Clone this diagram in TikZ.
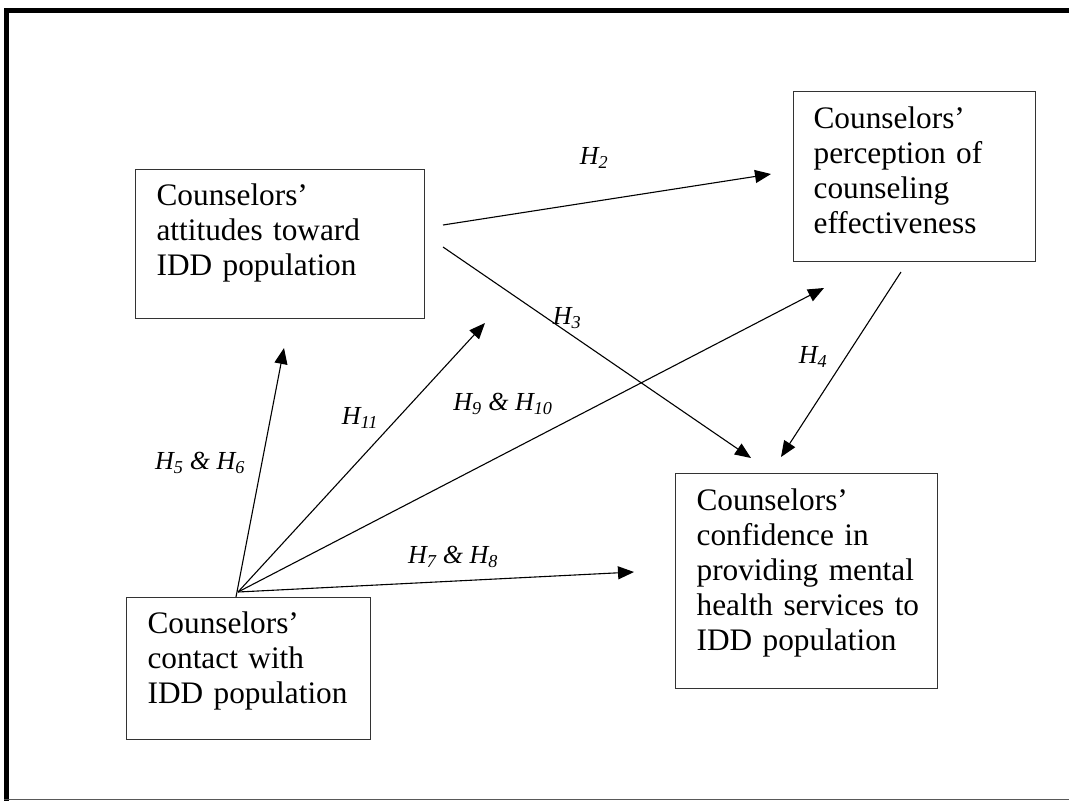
\documentclass[tikz,border=0pt]{standalone}
\usepackage{fontspec}
\setmainfont{Liberation Serif}
\usetikzlibrary{arrows.meta}
\newcommand\hh[1]{H\textsubscript{#1}}
\begin{document}
\begin{tikzpicture}[x=1pt,y=-1pt,
  box/.style={draw=black!80, line width=1.2pt, anchor=north west, inner ysep=0pt,
    inner xsep=21pt, align=left, font=\fontsize{31.3}{35}\selectfont},
  arr/.style={line width=1.1pt, -{Triangle[length=16pt,width=13pt]}},
  hyp/.style={font=\fontsize{26}{28}\selectfont\itshape, inner sep=0pt}]
\useasboundingbox (0,0) rectangle (1069,801);
% frame
\draw[line width=5pt, line join=miter] (6.5,801) -- (6.5,10.8) -- (1069,10.8);
\draw[black!65, line width=1.5pt] (4,799.5) -- (1069,799.5);
% boxes
\node[box, text width=247pt, text height=36pt, text depth=113pt] (att) at (135,169)
  {\mbox{Counselors’}\\\mbox{attitudes toward}\\\mbox{IDD population}};
\node[box, inner xsep=20pt, text width=202pt, text height=37pt, text depth=133pt] (per) at (793,91)
  {\mbox{Counselors’}\\\mbox{perception of}\\\mbox{counseling}\\\mbox{effectiveness}};
\node[box, text width=220pt, text height=37pt, text depth=178pt] (conf) at (675,473)
  {\mbox{Counselors’}\\\mbox{confidence in}\\\mbox{providing mental}\\\mbox{health services to}\\\mbox{IDD population}};
\node[box, text width=202pt, text height=36pt, text depth=106pt] (con) at (126,597)
  {\mbox{Counselors’}\\\mbox{contact with}\\\mbox{IDD population}};
% connector end points
\coordinate (o) at (238,592);
\coordinate (o5) at (236,597);
\coordinate (t5) at (284,348);
\coordinate (t11) at (485,323);
\coordinate (t9) at (824,288);
\coordinate (t7) at (634,572);
\coordinate (s2) at (443,225);
\coordinate (t2) at (771,174);
\coordinate (s3) at (443,247);
\coordinate (t3) at (751,458);
\coordinate (s4) at (901,272);
\coordinate (t4) at (781,457);
% arrows
\draw[arr] (o5) -- (t5);
\draw[arr] (o) -- (t11);
\draw[arr] (o) -- (t9);
\draw[arr] (o) -- (t7);
\draw[arr] (s2) -- (t2);
\draw[arr] (s3) -- (t3);
\draw[arr] (s4) -- (t4);
% labels
\node[hyp] (l2) at (594,158) {\hh{2}};
\node[hyp] (l3) at (567,318) {\hh{3}};
\node[hyp] (l4) at (813,357) {\hh{4}};
\node[hyp] (l11) at (360,418) {\hh{11}};
\node[hyp] (l9) at (503,404) {\hh{9} \& \hh{10}};
\node[hyp] (l5) at (200,463) {\hh{5} \& \hh{6}};
\node[hyp] (l7) at (453,557) {\hh{7} \& \hh{8}};
\end{tikzpicture}
\end{document}
